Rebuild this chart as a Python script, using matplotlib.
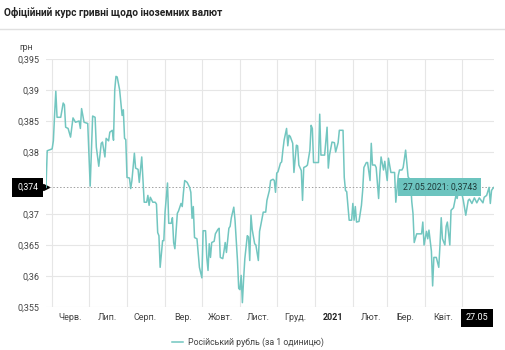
import matplotlib
matplotlib.use("Agg")
import matplotlib.pyplot as plt
import matplotlib.dates as mdates
import pandas as pd
from matplotlib.lines import Line2D

plt.rcParams["font.family"] = ["Roboto", "DejaVu Sans"]

title = "Офіційний курс гривні щодо іноземних валют"
series_name = "Російський рубль (за 1 одиницю)"
unit = "грн"
month_labels = ["Черв.", "Лип.", "Серп.", "Вер.", "Жовт.", "Лист.",
                "Груд.", "2021", "Лют.", "Бер.", "Квіт."]
# 0,375 is hidden behind the current-value marker in the original
yticks = [0.355, 0.36, 0.365, 0.37, 0.38, 0.385, 0.39, 0.395]

dates = [
    "2020-05-27", "2020-05-28", "2020-06-01", "2020-06-02", "2020-06-03", "2020-06-04", "2020-06-05", "2020-06-08",
    "2020-06-10", "2020-06-11", "2020-06-12", "2020-06-14", "2020-06-16", "2020-06-18", "2020-06-20", "2020-06-23",
    "2020-06-24", "2020-06-25", "2020-06-27", "2020-06-30", "2020-07-02", "2020-07-04", "2020-07-06", "2020-07-07",
    "2020-07-09", "2020-07-11", "2020-07-12", "2020-07-14", "2020-07-15", "2020-07-17", "2020-07-18", "2020-07-20",
    "2020-07-21", "2020-07-22", "2020-07-23", "2020-07-24", "2020-07-25", "2020-07-26", "2020-07-27", "2020-07-28",
    "2020-07-29", "2020-07-30", "2020-07-31", "2020-08-01", "2020-08-03", "2020-08-04", "2020-08-05", "2020-08-07",
    "2020-08-08", "2020-08-10", "2020-08-11", "2020-08-13", "2020-08-14", "2020-08-15", "2020-08-17", "2020-08-18",
    "2020-08-19", "2020-08-20", "2020-08-22", "2020-08-24", "2020-08-25", "2020-08-26", "2020-08-27", "2020-08-28",
    "2020-08-30", "2020-08-31", "2020-09-01", "2020-09-03", "2020-09-04", "2020-09-06", "2020-09-07", "2020-09-08",
    "2020-09-09", "2020-09-11", "2020-09-12", "2020-09-14", "2020-09-15", "2020-09-16", "2020-09-17", "2020-09-19",
    "2020-09-21", "2020-09-22", "2020-09-23", "2020-09-24", "2020-09-25", "2020-09-27", "2020-09-29", "2020-10-01",
    "2020-10-02", "2020-10-04", "2020-10-05", "2020-10-06", "2020-10-07", "2020-10-08", "2020-10-09", "2020-10-11",
    "2020-10-12", "2020-10-14", "2020-10-15", "2020-10-16", "2020-10-18", "2020-10-19", "2020-10-20", "2020-10-21",
    "2020-10-23", "2020-10-24", "2020-10-25", "2020-10-27", "2020-10-28", "2020-10-30", "2020-10-31", "2020-11-01",
    "2020-11-02", "2020-11-03", "2020-11-04", "2020-11-05", "2020-11-07", "2020-11-08", "2020-11-09", "2020-11-10",
    "2020-11-11", "2020-11-13", "2020-11-14", "2020-11-16", "2020-11-17", "2020-11-18", "2020-11-20", "2020-11-22",
    "2020-11-23", "2020-11-25", "2020-11-26", "2020-11-28", "2020-11-29", "2020-11-30", "2020-12-01", "2020-12-02",
    "2020-12-04", "2020-12-05", "2020-12-06", "2020-12-07", "2020-12-09", "2020-12-10", "2020-12-11", "2020-12-12",
    "2020-12-14", "2020-12-15", "2020-12-17", "2020-12-18", "2020-12-19", "2020-12-21", "2020-12-22", "2020-12-23",
    "2020-12-25", "2020-12-26", "2020-12-28", "2020-12-29", "2020-12-30", "2020-12-31", "2021-01-04", "2021-01-05",
    "2021-01-06", "2021-01-09", "2021-01-11", "2021-01-12", "2021-01-13", "2021-01-15", "2021-01-17", "2021-01-18",
    "2021-01-20", "2021-01-21", "2021-01-24", "2021-01-25", "2021-01-26", "2021-01-27", "2021-01-29", "2021-01-31",
    "2021-02-01", "2021-02-02", "2021-02-03", "2021-02-04", "2021-02-06", "2021-02-08", "2021-02-09", "2021-02-10",
    "2021-02-12", "2021-02-13", "2021-02-15", "2021-02-16", "2021-02-17", "2021-02-19", "2021-02-20", "2021-02-22",
    "2021-02-23", "2021-02-24", "2021-02-26", "2021-02-27", "2021-03-01", "2021-03-02", "2021-03-04", "2021-03-07",
    "2021-03-08", "2021-03-10", "2021-03-11", "2021-03-13", "2021-03-14", "2021-03-16", "2021-03-18", "2021-03-20",
    "2021-03-21", "2021-03-22", "2021-03-23", "2021-03-25", "2021-03-26", "2021-03-29", "2021-03-30", "2021-03-31",
    "2021-04-02", "2021-04-03", "2021-04-04", "2021-04-06", "2021-04-07", "2021-04-08", "2021-04-10", "2021-04-12",
    "2021-04-13", "2021-04-14", "2021-04-15", "2021-04-17", "2021-04-18", "2021-04-19", "2021-04-21", "2021-04-22",
    "2021-04-24", "2021-04-26", "2021-04-27", "2021-04-29", "2021-04-30", "2021-05-02", "2021-05-04", "2021-05-06",
    "2021-05-07", "2021-05-09", "2021-05-11", "2021-05-13", "2021-05-15", "2021-05-18", "2021-05-19", "2021-05-21",
    "2021-05-23", "2021-05-24", "2021-05-25", "2021-05-26", "2021-05-27",
]
rates = [
    0.3743, 0.3802, 0.3805, 0.3818, 0.3860, 0.3898, 0.3856, 0.3856,
    0.3879, 0.3876, 0.3840, 0.3838, 0.3824, 0.3855, 0.3848, 0.3850,
    0.3838, 0.3870, 0.3848, 0.3846, 0.3745, 0.3858, 0.3856, 0.3808,
    0.3777, 0.3814, 0.3816, 0.3792, 0.3822, 0.3818, 0.3832, 0.3835,
    0.3819, 0.3900, 0.3922, 0.3921, 0.3910, 0.3900, 0.3880, 0.3859,
    0.3868, 0.3822, 0.3820, 0.3759, 0.3758, 0.3741, 0.3754, 0.3798,
    0.3774, 0.3772, 0.3751, 0.3792, 0.3755, 0.3719, 0.3719, 0.3730,
    0.3714, 0.3727, 0.3719, 0.3719, 0.3716, 0.3670, 0.3665, 0.3614,
    0.3657, 0.3657, 0.3703, 0.3750, 0.3685, 0.3685, 0.3694, 0.3654,
    0.3644, 0.3701, 0.3705, 0.3717, 0.3712, 0.3735, 0.3754, 0.3751,
    0.3743, 0.3735, 0.3693, 0.3712, 0.3662, 0.3660, 0.3614, 0.3597,
    0.3673, 0.3673, 0.3630, 0.3609, 0.3652, 0.3630, 0.3654, 0.3656,
    0.3668, 0.3675, 0.3677, 0.3630, 0.3628, 0.3640, 0.3654, 0.3638,
    0.3677, 0.3680, 0.3694, 0.3711, 0.3690, 0.3625, 0.3580, 0.3578,
    0.3601, 0.3557, 0.3595, 0.3628, 0.3665, 0.3663, 0.3625, 0.3698,
    0.3675, 0.3652, 0.3650, 0.3625, 0.3672, 0.3682, 0.3703, 0.3703,
    0.3722, 0.3738, 0.3754, 0.3756, 0.3754, 0.3735, 0.3766, 0.3768,
    0.3782, 0.3784, 0.3803, 0.3819, 0.3838, 0.3810, 0.3827, 0.3825,
    0.3814, 0.3767, 0.3811, 0.3810, 0.3779, 0.3770, 0.3722, 0.3775,
    0.3777, 0.3779, 0.3803, 0.3843, 0.3838, 0.3783, 0.3783, 0.3861,
    0.3795, 0.3795, 0.3840, 0.3774, 0.3795, 0.3816, 0.3815, 0.3800,
    0.3815, 0.3835, 0.3835, 0.3759, 0.3738, 0.3736, 0.3690, 0.3690,
    0.3717, 0.3690, 0.3712, 0.3687, 0.3688, 0.3714, 0.3738, 0.3775,
    0.3783, 0.3783, 0.3754, 0.3814, 0.3779, 0.3779, 0.3775, 0.3725,
    0.3765, 0.3792, 0.3771, 0.3785, 0.3754, 0.3790, 0.3767, 0.3767,
    0.3719, 0.3762, 0.3771, 0.3771, 0.3775, 0.3803, 0.3760, 0.3754,
    0.3720, 0.3701, 0.3654, 0.3668, 0.3668, 0.3668, 0.3687, 0.3650,
    0.3672, 0.3660, 0.3674, 0.3640, 0.3584, 0.3630, 0.3630, 0.3614,
    0.3650, 0.3694, 0.3660, 0.3650, 0.3680, 0.3687, 0.3650, 0.3706,
    0.3710, 0.3730, 0.3725, 0.3754, 0.3740, 0.3722, 0.3698, 0.3722,
    0.3724, 0.3717, 0.3726, 0.3718, 0.3726, 0.3718, 0.3727, 0.3730,
    0.3743, 0.3717, 0.3738, 0.3741, 0.3743,
]

dates = pd.to_datetime(dates)
line_color = "#72c6c0"
text_color = "#444444"
grid_color = "#e6e6e6"

W, H = 505, 350
fig = plt.figure(figsize=(W / 100, H / 100), dpi=100)
ax = fig.add_axes([46 / W, 1 - 307 / H, (494 - 46) / W, (307 - 59) / H])

line, = ax.plot(dates, rates, color=line_color, lw=1.1, label=series_name, zorder=3)

ax.set_xlim(dates[0], dates[-1])
ax.set_ylim(min(yticks), max(yticks))

# month boundaries carry the grid, mid-month minor ticks carry the labels
month_starts = pd.date_range("2020-06-01", "2021-05-01", freq="MS")
ax.set_xticks(month_starts)
ax.set_xticklabels([])
mid_months = month_starts[:-1] + pd.Timedelta(days=15)
ax.set_xticks(mid_months, minor=True)
ax.set_xticklabels(month_labels, minor=True)
ax.tick_params(axis="x", which="both", length=0, pad=4.5,
               labelsize=6.5, labelcolor=text_color)
for lbl in ax.get_xticklabels(minor=True):
    if lbl.get_text() == "2021":
        lbl.set_fontweight("bold")
        lbl.set_color("#222222")

ax.set_yticks(yticks)
ax.set_yticklabels([str(v).replace(".", ",") for v in yticks])
ax.tick_params(axis="y", length=0, pad=4.5, labelsize=6.5, labelcolor=text_color)

ax.grid(True, which="major", color=grid_color, lw=0.8)
ax.set_axisbelow(True)
for s in ax.spines.values():
    s.set_visible(False)

# crosshair on last value
last_date, last_rate = dates[-1], rates[-1]
last_x = mdates.date2num(last_date)
ax.axhline(last_rate, color="#a0a0a0", ls=(0, (1.5, 2)), lw=0.7, zorder=2)
ax.axvline(last_x, color="#a0a0a0", ls=(0, (1.5, 2)), lw=0.7, zorder=2)

ax.annotate(f"{last_rate:.3f}".replace(".", ","), xy=(0, last_rate),
            xycoords=ax.get_yaxis_transform(), xytext=(-8, 0),
            textcoords="offset pixels", ha="right", va="center",
            fontsize=6.2, color="white",
            bbox=dict(boxstyle="square,pad=0.55", fc="black", ec="none"))
ax.plot([0], [last_rate], marker=">", ms=4, color="black",
        transform=ax.get_yaxis_transform(), clip_on=False)

tip = f"{last_date:%d.%m.%Y}: " + f"{last_rate:.4f}".replace(".", ",")
ax.annotate(tip, xy=(last_x, last_rate), xytext=(-17, 0),
            textcoords="offset pixels", ha="right", va="center",
            fontsize=6.3, color="#1e3a3a", zorder=5,
            bbox=dict(boxstyle="square,pad=0.5", fc="#6cc4bf", ec="none"))

ax.annotate(f"{last_date:%d.%m}", xy=(last_x, 0),
            xycoords=ax.get_xaxis_transform(), xytext=(-17, -11),
            textcoords="offset pixels", ha="center", va="center",
            fontsize=6.5, color="white",
            bbox=dict(boxstyle="square,pad=0.5", fc="black", ec="none"))

fig.text(4 / W, 1 - 13 / H, title, fontsize=7.3, fontweight="bold",
         color="#222222", va="center", ha="left")
fig.add_artist(Line2D([0, 1], [1 - 29 / H] * 2, transform=fig.transFigure,
                      color="#e0e0e0", lw=1))
fig.text(19 / W, 1 - 47 / H, unit, fontsize=6.3, color=text_color,
         va="center", ha="left")

ax.legend(handles=[line], loc="center", bbox_to_anchor=(248 / W, 1 - 342 / H),
          bbox_transform=fig.transFigure, frameon=False, fontsize=6.3,
          handlelength=1.3, handletextpad=0.6, labelcolor=text_color)

fig.savefig("out.png", dpi=100)
